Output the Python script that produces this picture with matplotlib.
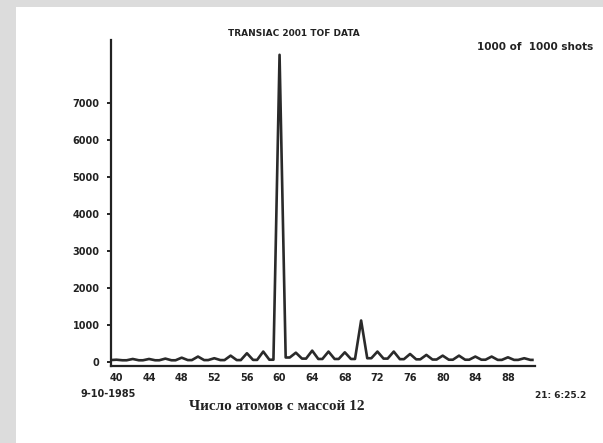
import matplotlib.pyplot as plt
from matplotlib.patches import Rectangle
import numpy as np

# pics (nombre pair d'atomes) et niveau de base entre les pics
masses_pics = [40, 42, 44, 46, 48, 50, 52, 54, 56, 58, 60, 62, 64, 66, 68,
               70, 72, 74, 76, 78, 80, 82, 84, 86, 88, 90]
hauteurs_pics = [60, 80, 80, 90, 115, 145, 100, 170, 235, 280, 8300, 250, 305,
                 280, 260, 1120, 280, 280, 215, 190, 170, 170, 145, 145, 125, 100]
masses_creux = [39, 41, 43, 45, 47, 49, 51, 53, 55, 57, 59, 61, 63, 65, 67,
                69, 71, 73, 75, 77, 79, 81, 83, 85, 87, 89, 91]
hauteurs_creux = [50, 45, 45, 45, 45, 50, 50, 50, 50, 55, 60, 120, 90, 80, 80,
                  80, 100, 90, 75, 70, 65, 60, 60, 60, 55, 55, 55]

y_ticks = [0, 1000, 2000, 3000, 4000, 5000, 6000, 7000]
x_ticks = list(range(40, 89, 4))

demi_largeur = 0.75  # demi-largeur des pics a la base

# trace : palier de base, montee, pic, descente
x_trace, y_trace = [masses_creux[0]], [hauteurs_creux[0]]
for k, m in enumerate(masses_pics):
  x_trace += [m - demi_largeur, m, m + demi_largeur]
  y_trace += [hauteurs_creux[k], hauteurs_pics[k], hauteurs_creux[k + 1]]
x_trace.append(masses_creux[-1])
y_trace.append(hauteurs_creux[-1])

fig = plt.figure(figsize=(6.03, 4.43), dpi=100, facecolor="#dcdcdc")
fig.patches.append(Rectangle((16 / 603, 0), 1, 1 - 7 / 443, transform=fig.transFigure,
                             facecolor="white", edgecolor="none", zorder=-1))

ax = fig.add_axes([0.1836, 0.1738, 0.887 - 0.1836, 0.9097 - 0.1738])
ax.set_zorder(2)
ax.set_facecolor("none")
ax.plot(x_trace, y_trace, color="#2a2a2a", lw=1.9, solid_joinstyle="round")
ax.set_xlim(39.3, 91.3)
ax.set_ylim(-110, 8700)

for s in ["top", "right"]:
  ax.spines[s].set_visible(False)
for s in ["left", "bottom"]:
  ax.spines[s].set_linewidth(1.6)
  ax.spines[s].set_color("#222222")

police = "DejaVu Sans"
ax.set_yticks(y_ticks)
ax.set_yticklabels([str(v) for v in y_ticks], fontsize=7, fontweight="bold",
                   family=police, color="#222222")
ax.set_xticks(x_ticks)
ax.set_xticklabels([str(v) for v in x_ticks], fontsize=7, fontweight="bold",
                   family=police, color="#222222")
ax.tick_params(axis="y", length=3, width=1.2, pad=5)
ax.tick_params(axis="x", length=0, pad=5)

fig.text(294 / 603, 1 - 33 / 443, "TRANSIAC 2001 TOF DATA", ha="center", va="center",
         fontsize=6.5, fontweight="bold", family=police, color="#222222")
fig.text(535 / 603, 1 - 47 / 443, "1000 of  1000 shots", ha="center", va="center",
         fontsize=7.5, fontweight="bold", family=police, color="#222222")
fig.text(108 / 603, 1 - 394 / 443, "9-10-1985", ha="center", va="center",
         fontsize=7, fontweight="bold", family=police, color="#222222")
fig.text(561 / 603, 1 - 395 / 443, "21: 6:25.2", ha="center", va="center",
         fontsize=6.5, fontweight="bold", family=police, color="#222222")
fig.text(277 / 603, 1 - 406 / 443, "Число атомов с массой 12", ha="center", va="center",
         fontsize=11, fontweight="bold", family=["Liberation Serif", "DejaVu Serif"],
         color="#222222")

plt.savefig("out.png", dpi=100, facecolor=fig.get_facecolor())
